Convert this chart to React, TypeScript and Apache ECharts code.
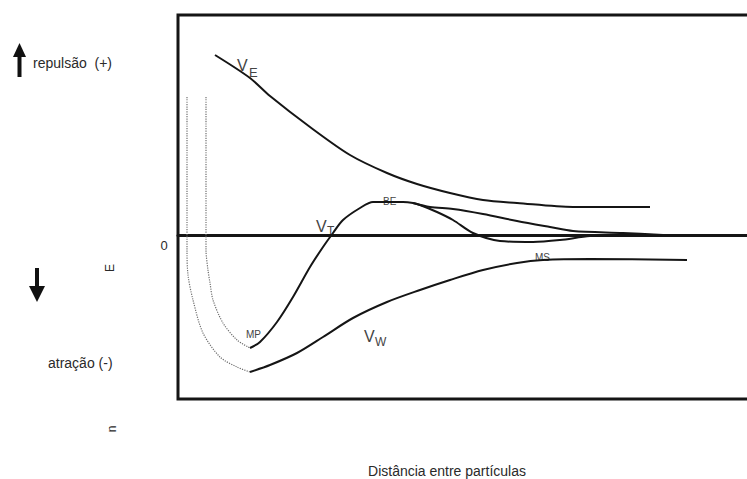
import React, { useEffect, useRef } from "react";
import * as echarts from "echarts";

// Axis domain (distance, energy); energy 0 = reference line
const xMin = 0;
const xMax = 572;
const yMin = -164;
const yMax = 220;

// V_E : repulsion curve
const veX = [37, 72, 92, 132, 172, 209, 239, 272, 305, 339, 395, 472];
const veY = [180, 157, 139, 108, 80, 62, 51, 42, 35, 32, 28, 28];

// V_T : total energy curve (MP -> BE -> secondary dip)
const vtX = [72, 82, 99, 115, 132, 145, 155, 165, 182, 195, 225, 235, 242, 259, 275, 295, 322, 355, 382, 412, 442];
const vtY = [-113, -107, -87, -62, -32, -12, 2, 15, 27, 33, 33, 32, 30, 23, 15, 2, -6, -7, -5, -1, 0];

// second tail after BE
const vt2X = [235, 252, 275, 305, 339, 372, 395, 445, 485];
const vt2Y = [32, 28, 26, 21, 14, 8, 4, 2, 0];

// V_W : attraction curve
const vwX = [72, 92, 119, 145, 175, 209, 242, 272, 305, 339, 365, 412, 509];
const vwY = [-137, -130, -118, -102, -83, -67, -55, -45, -35, -28, -25, -24, -25];

// dotted extensions at short distance
const dotWX = [9, 9, 10, 15, 25, 42, 59, 72];
const dotWY = [138, -15, -40, -65, -98, -122, -132, -137];
const dotTX = [28, 28, 30, 32, 35, 45, 59, 72];
const dotTY = [138, -15, -35, -48, -65, -88, -105, -113];

const zip = (xs: number[], ys: number[]) => xs.map((x, i) => [x, ys[i]]);

const TEXT = "#2a2a2a";
const LINE = "#151515";
const FONT = "Liberation Sans, Arial, sans-serif";

function txt(text: string, x: number, y: number, size: number, extra: any = {}) {
  return {
    type: "text",
    x,
    y,
    ...extra,
    style: {
      text,
      font: `${size}px ${FONT}`,
      fill: extra.fill || TEXT,
      textAlign: extra.align || "left",
      align: extra.align || "left",
      textVerticalAlign: "middle",
      verticalAlign: "middle",
    },
  };
}

export default function App() {
  const ref = useRef<HTMLDivElement>(null);
  useEffect(() => {
    document.body.style.margin = "0";
    const chart = echarts.init(ref.current!, null, { renderer: "svg" });
    const curve = (data: number[][], dotted = false) => ({
      type: "line",
      data,
      showSymbol: false,
      smooth: 0.3,
      silent: true,
      lineStyle: dotted
        ? { color: "#6f6f6f", width: 1.2, type: "dotted" }
        : { color: LINE, width: 2 },
    });
    chart.setOption({
      animation: false,
      backgroundColor: "#fff",
      grid: {
        left: 178,
        top: 15,
        right: -3,
        bottom: 80,
        show: true,
        borderColor: LINE,
        borderWidth: 3,
        backgroundColor: "transparent",
        outerBoundsMode: "none",
      },
      xAxis: {
        type: "value",
        min: xMin,
        max: xMax,
        axisLine: { show: true, onZero: true, lineStyle: { color: LINE, width: 3 } },
        axisTick: { show: false },
        axisLabel: { show: false },
        splitLine: { show: false },
      },
      yAxis: {
        type: "value",
        min: yMin,
        max: yMax,
        axisLine: { show: false },
        axisTick: { show: false },
        axisLabel: { show: false },
        splitLine: { show: false },
      },
      series: [
        curve(zip(dotWX, dotWY), true),
        curve(zip(dotTX, dotTY), true),
        curve(zip(veX, veY)),
        curve(zip(vtX, vtY)),
        curve(zip(vt2X, vt2Y)),
        curve(zip(vwX, vwY)),
      ],
      graphic: [
        // up arrow
        { type: "rect", shape: { x: 17.5, y: 54, width: 4, height: 23 }, style: { fill: "#111" } },
        { type: "polygon", shape: { points: [[13, 57], [26, 57], [19.5, 43]] }, style: { fill: "#111" } },
        txt("repulsão  (+)", 33, 63, 14),
        // down arrow
        { type: "rect", shape: { x: 35, y: 268, width: 4, height: 22 }, style: { fill: "#111" } },
        { type: "polygon", shape: { points: [[29, 286], [45, 286], [37, 302]] }, style: { fill: "#111" } },
        txt("atração (-)", 48, 363, 14),
        txt("0", 164, 245, 13, { align: "center" }),
        txt("E", 110, 268, 12, { align: "center", rotation: Math.PI / 2 }),
        txt("n", 112, 429, 12, { align: "center", rotation: Math.PI / 2 }),
        txt("Distância entre partículas", 447, 471, 14, { align: "center" }),
        // curve labels
        txt("V", 237, 65, 16, { fill: "#444" }),
        txt("E", 249, 72, 13, { fill: "#444" }),
        txt("V", 316, 226, 16, { fill: "#444" }),
        txt("T", 327, 231, 12, { fill: "#444" }),
        txt("V", 364, 336, 16, { fill: "#444" }),
        txt("W", 375, 342, 12, { fill: "#444" }),
        txt("BE", 383, 201, 10, { fill: "#444" }),
        txt("MP", 246, 334, 10, { fill: "#444" }),
        txt("MS", 535, 257, 10, { fill: "#444" }),
      ],
    });
    return () => chart.dispose();
  }, []);
  return <div ref={ref} style={{ width: 747, height: 479 }} />;
}
